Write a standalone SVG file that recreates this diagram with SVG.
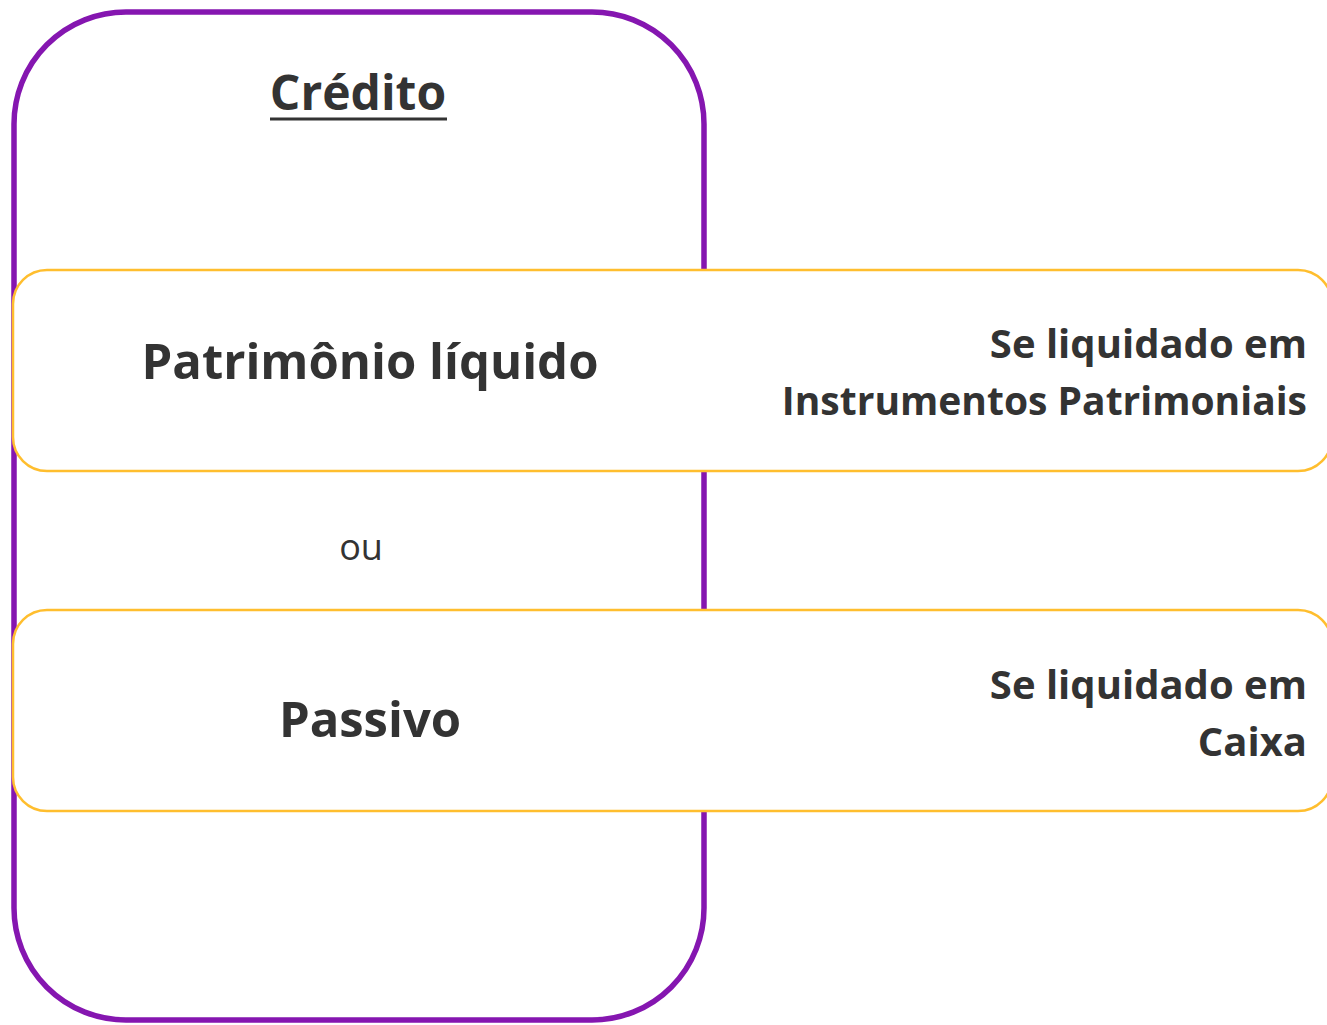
<svg xmlns="http://www.w3.org/2000/svg" width="1327" height="1025" viewBox="0 0 1327 1025">
<style>
.t{font-family:"Open Sans","Noto Sans","Liberation Sans",sans-serif;fill:#333333}
.b{font-weight:bold}
.box{fill:#ffffff;stroke:#FFBE2E;stroke-width:2.5}
</style>
<rect width="1327" height="1025" fill="#ffffff"/>
<g id="credito">
<rect x="14" y="12" width="690" height="1008" rx="112" ry="112" fill="#ffffff" stroke="#8516B0" stroke-width="5.5"/>
<text class="t b" x="358" y="110" font-size="48" text-anchor="middle">Crédito</text>
<rect x="270" y="117.5" width="177" height="3" fill="#333333"/>
</g>
<g id="pl">
<rect class="box" x="13" y="270" width="1319" height="201" rx="34" ry="34"/>
<text class="t b" x="370" y="379" font-size="49" text-anchor="middle">Patrimônio líquido</text>
<text class="t b" x="1307" y="358" font-size="40" text-anchor="end">Se liquidado em</text>
<text class="t b" x="1307" y="415" font-size="39" text-anchor="end">Instrumentos Patrimoniais</text>
</g>
<g id="ou">
<text class="t" x="361" y="560" font-size="36" text-anchor="middle">ou</text>
</g>
<g id="passivo">
<rect class="box" x="13" y="610" width="1319" height="201" rx="34" ry="34"/>
<text class="t b" x="370" y="737" font-size="49" text-anchor="middle">Passivo</text>
<text class="t b" x="1307" y="699" font-size="40" text-anchor="end">Se liquidado em</text>
<text class="t b" x="1307" y="756" font-size="40" text-anchor="end">Caixa</text>
</g>
<g id="connectors"></g>
</svg>
